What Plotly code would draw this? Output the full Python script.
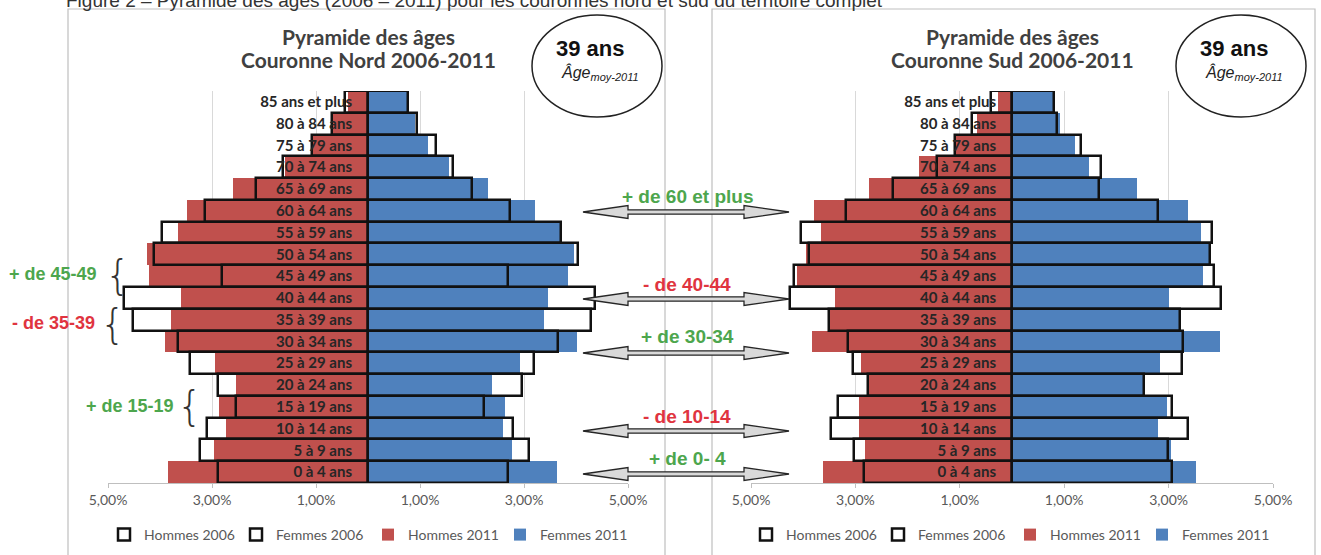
import plotly.graph_objects as go

W, H = 1321, 555

ages = ["85 ans et plus", "80 à 84 ans", "75 à 79 ans", "70 à 74 ans", "65 à 69 ans",
        "60 à 64 ans", "55 à 59 ans", "50 à 54 ans", "45 à 49 ans", "40 à 44 ans",
        "35 à 39 ans", "30 à 34 ans", "25 à 29 ans", "20 à 24 ans", "15 à 19 ans",
        "10 à 14 ans", "5 à 9 ans", "0 à 4 ans"]

# Couronne Nord (% of population)
nord_h2011 = [0.38, 0.67, 1.10, 1.60, 2.59, 3.48, 3.66, 4.25, 4.22, 3.60, 3.79, 3.91, 2.94, 2.54, 2.87, 2.73, 2.97, 3.84]
nord_h2006 = [0.44, 0.70, 1.08, 1.63, 2.15, 3.13, 3.96, 4.12, 2.80, 4.70, 4.51, 3.66, 3.43, 2.89, 2.54, 3.09, 3.24, 2.88]
nord_f2011 = [0.75, 0.91, 1.15, 1.56, 2.31, 3.22, 3.70, 3.96, 3.85, 3.46, 3.39, 4.01, 2.93, 2.39, 2.63, 2.60, 2.76, 3.64]
nord_f2006 = [0.77, 0.94, 1.30, 1.63, 2.00, 2.74, 3.72, 4.03, 2.70, 4.37, 4.28, 3.65, 3.20, 2.96, 2.24, 2.79, 3.09, 2.69]

# Couronne Sud (% of population)
sud_h2011 = [0.27, 0.67, 1.10, 1.78, 2.73, 3.80, 3.66, 3.95, 4.11, 3.39, 3.48, 3.84, 2.89, 2.75, 2.93, 2.93, 2.81, 3.63]
sud_h2006 = [0.41, 0.77, 1.10, 1.44, 2.28, 3.18, 4.05, 3.89, 4.18, 4.26, 3.51, 3.14, 3.05, 2.75, 3.34, 3.46, 3.03, 2.84]
sud_f2011 = [0.79, 0.92, 1.20, 1.47, 2.40, 3.37, 3.63, 3.77, 3.66, 3.01, 3.21, 3.99, 2.84, 2.53, 2.96, 2.79, 3.05, 3.53]
sud_f2006 = [0.81, 0.86, 1.32, 1.71, 1.66, 2.79, 3.84, 3.79, 3.87, 4.01, 3.21, 3.27, 3.25, 2.53, 3.06, 3.37, 2.98, 3.07]

tick_vals = [-5, -3, -1, 1, 3, 5]
tick_text = ["5,00%", "3,00%", "1,00%", "1,00%", "3,00%", "5,00%"]

title_line1 = ["Pyramide des âges", "Pyramide des âges"]
title_line2 = ["Couronne Nord 2006-2011", "Couronne Sud 2006-2011"]
age_moy = ["39 ans", "39 ans"]

mid_labels = ["+ de 60 et plus", "- de 40-44", "+ de 30-34", "- de 10-14", "+ de 0- 4"]
mid_colors = ["#4DA64D", "#E0343F", "#4DA64D", "#E0343F", "#4DA64D"]
side_labels = ["+ de 45-49", "- de 35-39", "+ de 15-19"]
side_colors = ["#4DA64D", "#E0343F", "#4DA64D"]

RED = "#C0504D"
BLUE = "#4F81BD"


def px(x):
    return x / W


def py(y):
    return 1 - y / H


fig = go.Figure()

panels = [
    dict(h11=nord_h2011, h06=nord_h2006, f11=nord_f2011, f06=nord_f2006, xa="x", ya="y", leg="legend"),
    dict(h11=sud_h2011, h06=sud_h2006, f11=sud_f2011, f06=sud_f2006, xa="x2", ya="y2", leg="legend2"),
]

for p in panels:
    neg06 = [-v for v in p["h06"]]
    neg11 = [-v for v in p["h11"]]
    common = dict(y=ages, orientation="h", xaxis=p["xa"], yaxis=p["ya"], legend=p["leg"], hoverinfo="skip")
    # white backgrounds of 2006 bars
    fig.add_trace(go.Bar(x=neg06, marker=dict(color="white", line=dict(width=0)), showlegend=False, **common))
    fig.add_trace(go.Bar(x=p["f06"], marker=dict(color="white", line=dict(width=0)), showlegend=False, **common))
    # 2011 filled bars
    fig.add_trace(go.Bar(x=neg11, name="Hommes 2011", legendrank=3,
                         marker=dict(color=RED, line=dict(width=0)), **common))
    fig.add_trace(go.Bar(x=p["f11"], name="Femmes 2011", legendrank=4,
                         marker=dict(color=BLUE, line=dict(width=0)), **common))
    # 2006 outlines on top
    fig.add_trace(go.Bar(x=neg06, name="Hommes 2006", legendrank=1,
                         marker=dict(color="rgba(0,0,0,0)", line=dict(color="#111111", width=2.5)), **common))
    fig.add_trace(go.Bar(x=p["f06"], name="Femmes 2006", legendrank=2,
                         marker=dict(color="rgba(0,0,0,0)", line=dict(color="#111111", width=2.5)), **common))

x_domains = [[px(108), px(628)], [px(751), px(1273)]]
centers = [368, 1012]
y_domain = [py(483), py(91)]

axis_font = dict(family="Lato", size=14, color="#595959")
xcommon = dict(range=[-5, 5], tickvals=tick_vals, ticktext=tick_text, showgrid=True,
               gridcolor="#D9D9D9", gridwidth=1, zeroline=False, showline=True,
               linecolor="#BFBFBF", ticks="outside", ticklen=4, tickcolor="#BFBFBF",
               tickfont=axis_font, fixedrange=True, automargin=False)
ycommon = dict(range=[17.5, -0.5], showgrid=False, zeroline=False, showline=False, ticks="",
               tickfont=dict(family="Lato", size=15, color="#262626", weight="bold"),
               ticklabelstandoff=16, domain=y_domain, anchor="free", fixedrange=True, automargin=False)

fig.update_layout(
    xaxis=dict(domain=x_domains[0], anchor="y", **xcommon),
    xaxis2=dict(domain=x_domains[1], anchor="y2", **xcommon),
    yaxis=dict(position=px(centers[0]), **ycommon),
    yaxis2=dict(position=px(centers[1]), **ycommon),
)

legend_common = dict(orientation="h", yanchor="middle", y=py(535), xanchor="left",
                     font=dict(family="Lato", size=14, color="#595959"),
                     bgcolor="rgba(0,0,0,0)", traceorder="normal", entrywidth=87,
                     itemclick=False, itemdoubleclick=False)
fig.update_layout(
    legend=dict(x=px(104), **legend_common),
    legend2=dict(x=px(746), **legend_common),
)

shapes = []
annotations = []

# panel boxes
for x0, x1 in [(68, 665), (712, 1315)]:
    shapes.append(dict(type="rect", xref="paper", yref="paper", x0=px(x0), x1=px(x1), y0=py(9), y1=py(600),
                       line=dict(color="#BFBFBF", width=1.2), fillcolor="rgba(0,0,0,0)", layer="below"))

for i, c in enumerate(centers):
    # titles
    for txt, ty in [(title_line1[i], 37), (title_line2[i], 59)]:
        annotations.append(dict(text="<b>" + txt + "</b>", xref="paper", yref="paper", x=px(c), y=py(ty),
                                showarrow=False, xanchor="center", yanchor="middle",
                                font=dict(family="Lato", size=21, color="#404040")))
    # circle with mean age
    ox = c + 229
    shapes.append(dict(type="circle", xref="paper", yref="paper", x0=px(ox - 65), x1=px(ox + 65),
                       y0=py(15), y1=py(117), line=dict(color="#222222", width=1.5),
                       fillcolor="rgba(0,0,0,0)"))
    annotations.append(dict(text="<b>" + age_moy[i] + "</b>", xref="paper", yref="paper", x=px(ox - 7),
                            y=py(49), showarrow=False, xanchor="center", yanchor="middle",
                            font=dict(family="Liberation Sans Narrow, Liberation Sans", size=22, color="#111111")))
    annotations.append(dict(text="<i>Âge<sub><span style=\"font-size:11px\">moy-2011</span></sub></i>",
                            xref="paper", yref="paper", x=px(ox + 3),
                            y=py(73), showarrow=False, xanchor="center", yanchor="middle",
                            font=dict(family="Liberation Sans", size=16, color="#222222")))

# caption (cut at the top)
annotations.append(dict(text="Figure 2 – Pyramide des âges (2006 – 2011) pour les couronnes nord et sud du territoire complet",
                        xref="paper", yref="paper", x=px(64), y=py(0), showarrow=False,
                        xanchor="left", yanchor="middle",
                        font=dict(family="Liberation Sans", size=19, color="#333333")))

# double arrows between panels
arrow_y = [212, 299, 353, 431, 474]
label_y = [197, 284, 336, 416, 458]
ax0, ax1 = 583, 789
hl, hh, sh = 45, 6.5, 2.2
for i, ay in enumerate(arrow_y):
    pts = [(ax0, ay), (ax0 + hl, ay - hh), (ax0 + hl, ay - sh), (ax1 - hl, ay - sh), (ax1 - hl, ay - hh),
           (ax1, ay), (ax1 - hl, ay + hh), (ax1 - hl, ay + sh), (ax0 + hl, ay + sh), (ax0 + hl, ay + hh)]
    path = "M " + " L ".join(f"{px(x):.5f},{py(y):.5f}" for x, y in pts) + " Z"
    shapes.append(dict(type="path", xref="paper", yref="paper", path=path,
                       fillcolor="#D9D9D9", line=dict(color="#262626", width=1.3), layer="above"))
    annotations.append(dict(text="<b>" + mid_labels[i] + "</b>", xref="paper", yref="paper", x=px(687),
                            y=py(label_y[i]), showarrow=False, xanchor="center", yanchor="middle",
                            font=dict(family="Liberation Sans", size=19, color=mid_colors[i])))

# side labels with braces
side_pos = [(53, 274), (53, 323), (130, 406)]
brace_pos = [(117, 275), (113, 324), (189, 406)]
for i, (sx, sy) in enumerate(side_pos):
    annotations.append(dict(text="<b>" + side_labels[i] + "</b>", xref="paper", yref="paper", x=px(sx),
                            y=py(sy), showarrow=False, xanchor="center", yanchor="middle",
                            font=dict(family="Liberation Sans", size=18, color=side_colors[i])))
    bx, by = brace_pos[i]
    annotations.append(dict(text="{", xref="paper", yref="paper", x=px(bx), y=py(by), showarrow=False,
                            xanchor="center", yanchor="middle",
                            font=dict(family="DejaVu Sans", size=40, color="#333333", weight=200)))

fig.update_layout(
    width=W, height=H, autosize=False,
    margin=dict(l=0, r=0, t=0, b=0, autoexpand=False),
    paper_bgcolor="white", plot_bgcolor="rgba(0,0,0,0)",
    barmode="overlay", bargap=0,
    shapes=shapes, annotations=annotations,
)

fig.write_html("out.html", config={"displayModeBar": False},
               post_script="document.body.style.margin='0px';")
